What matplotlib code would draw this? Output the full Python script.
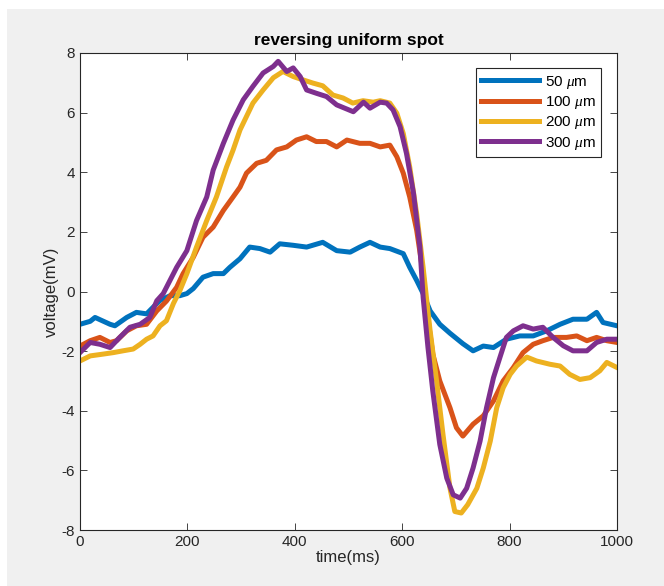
import numpy as np
import matplotlib.pyplot as plt
from matplotlib.patches import Rectangle

# traces: time (ms) and voltage (mV) for each spot size
t_50 = [0, 19, 28, 56, 65, 87, 105, 124, 136, 149, 168, 186, 199, 211, 229, 248, 267, 279,
        298, 316, 335, 354, 372, 397, 422, 452, 478, 503, 521, 540, 559, 577, 602, 614,
        627, 639, 652, 670, 689, 713, 732, 751, 770, 794, 819, 844, 869, 894, 918, 944,
        962, 974, 1000]
v_50 = [-1.1, -1.0, -0.87, -1.1, -1.15, -0.87, -0.7, -0.75, -0.53, -0.3, -0.14, -0.14,
        -0.07, 0.1, 0.48, 0.6, 0.6, 0.81, 1.1, 1.49, 1.44, 1.32, 1.6, 1.55, 1.49, 1.65,
        1.37, 1.32, 1.49, 1.65, 1.49, 1.44, 1.27, 0.81, 0.37, -0.07, -0.65, -1.1, -1.4,
        -1.75, -1.99, -1.83, -1.88, -1.6, -1.49, -1.49, -1.32, -1.1, -0.93, -0.93, -0.7,
        -1.04, -1.15]

t_100 = [0, 19, 37, 56, 68, 87, 105, 124, 143, 161, 180, 192, 211, 229, 248, 267, 285,
         298, 310, 329, 347, 366, 385, 403, 422, 440, 459, 478, 497, 521, 540, 559, 577,
         590, 602, 614, 627, 639, 645, 657, 670, 689, 701, 713, 732, 751, 770, 788, 807,
         825, 844, 862, 881, 906, 925, 944, 962, 981, 1000]
v_100 = [-1.83, -1.65, -1.54, -1.71, -1.65, -1.32, -1.15, -1.1, -0.65, -0.32, 0.14, 0.6,
         1.15, 1.82, 2.16, 2.72, 3.17, 3.5, 3.97, 4.3, 4.4, 4.75, 4.85, 5.08, 5.19, 5.03,
         5.03, 4.85, 5.08, 4.97, 4.97, 4.85, 4.91, 4.52, 3.97, 3.17, 2.05, 0.6, -0.53,
         -2.1, -3.0, -3.9, -4.57, -4.85, -4.45, -4.17, -3.67, -3.0, -2.55, -2.05, -1.77,
         -1.65, -1.54, -1.54, -1.49, -1.65, -1.54, -1.65, -1.71]

t_200 = [0, 19, 43, 62, 80, 99, 112, 124, 136, 149, 161, 174, 186, 199, 217, 236, 254,
         273, 285, 298, 310, 322, 341, 360, 378, 397, 415, 434, 452, 471, 490, 508, 527,
         546, 559, 577, 590, 602, 614, 627, 639, 652, 664, 676, 689, 698, 710, 722, 739,
         751, 764, 776, 788, 801, 813, 832, 850, 875, 894, 912, 931, 950, 968, 981, 1000]
v_200 = [-2.33, -2.16, -2.1, -2.05, -1.99, -1.93, -1.77, -1.6, -1.49, -1.15, -0.98, -0.4,
         0.03, 0.6, 1.49, 2.38, 3.17, 4.18, 4.74, 5.42, 5.87, 6.32, 6.76, 7.17, 7.38, 7.21,
         7.1, 6.99, 6.9, 6.59, 6.49, 6.32, 6.4, 6.35, 6.4, 6.32, 5.98, 5.3, 4.18, 2.6,
         0.8, -1.32, -3.0, -4.8, -6.6, -7.38, -7.43, -7.15, -6.6, -5.92, -5.02, -3.9,
         -3.23, -2.78, -2.5, -2.2, -2.33, -2.44, -2.5, -2.78, -2.95, -2.89, -2.66, -2.38,
         -2.55]

t_300 = [0, 19, 37, 56, 74, 93, 112, 130, 143, 155, 161, 180, 199, 217, 236, 248, 267,
         285, 304, 322, 341, 360, 369, 385, 397, 410, 422, 440, 459, 478, 509, 528, 540,
         559, 571, 583, 596, 608, 621, 633, 639, 648, 657, 670, 683, 695, 708, 720, 732,
         745, 757, 770, 782, 794, 807, 825, 844, 862, 881, 900, 918, 944, 962, 981, 1000]
v_300 = [-2.05, -1.71, -1.77, -1.88, -1.54, -1.2, -1.1, -0.87, -0.31, -0.07, 0.14, 0.81,
         1.37, 2.38, 3.17, 4.07, 4.97, 5.75, 6.43, 6.88, 7.33, 7.55, 7.72, 7.38, 7.5, 7.21,
         6.76, 6.65, 6.54, 6.26, 6.03, 6.35, 6.15, 6.35, 6.32, 6.09, 5.53, 4.63, 3.3,
         1.49, -0.2, -1.88, -3.34, -5.13, -6.26, -6.82, -6.93, -6.6, -5.92, -5.02, -3.9,
         -2.89, -2.21, -1.54, -1.32, -1.15, -1.26, -1.2, -1.54, -1.82, -1.99, -1.99, -1.71,
         -1.6, -1.6]

labels = [r'50 $\mu$m', r'100 $\mu$m', r'200 $\mu$m', r'300 $\mu$m']
colors = ['#0072BD', '#D95319', '#EDB120', '#7E2F8E']

plt.rcParams['font.family'] = ['Liberation Sans', 'DejaVu Sans']
plt.rcParams['mathtext.fontset'] = 'custom'
plt.rcParams['mathtext.it'] = 'Liberation Serif:italic'
plt.rcParams['axes.unicode_minus'] = False

fig = plt.figure(figsize=(6.64, 5.86), dpi=100)
fig.patch.set_facecolor('white')
# matlab style grey figure window
fig.patches.append(Rectangle((7 / 664, 0), 1, 1 - 9 / 586, transform=fig.transFigure,
                             facecolor='#f0f0f0', edgecolor='none', zorder=-10))

ax = fig.add_axes([80 / 664, 1 - 530 / 586, 537 / 664, 477 / 586])
ax.set_facecolor('white')

for t, v, lab, c in zip([t_50, t_100, t_200, t_300], [v_50, v_100, v_200, v_300],
                        labels, colors):
    ax.plot(t, v, color=c, lw=3.6, label=lab, solid_joinstyle='round')

ax.set_xlim(0, 1000)
ax.set_ylim(-8, 8)
ax.set_xticks(np.arange(0, 1001, 200))
ax.set_yticks(np.arange(-8, 9, 2))
ax.tick_params(direction='in', top=True, right=True, labelsize=11, colors='#262626',
               length=5, width=0.6)
for s in ax.spines.values():
    s.set_color('#262626')
    s.set_linewidth(0.8)

ax.set_xlabel('time(ms)', fontsize=12, color='#262626', labelpad=1)
ax.set_ylabel('voltage(mV)', fontsize=12, color='#262626', labelpad=2)
ax.set_title('reversing uniform spot', fontsize=12.5, fontweight='bold', pad=6)

leg = ax.legend(loc='upper right', bbox_to_anchor=(0.971, 0.968), fontsize=11,
                handlelength=3.8, handletextpad=0.4, labelspacing=0.22,
                borderpad=0.35, borderaxespad=0, fancybox=False, framealpha=1)
leg.get_frame().set_edgecolor('#262626')
leg.get_frame().set_linewidth(0.8)

plt.savefig('out.png', dpi=100)
